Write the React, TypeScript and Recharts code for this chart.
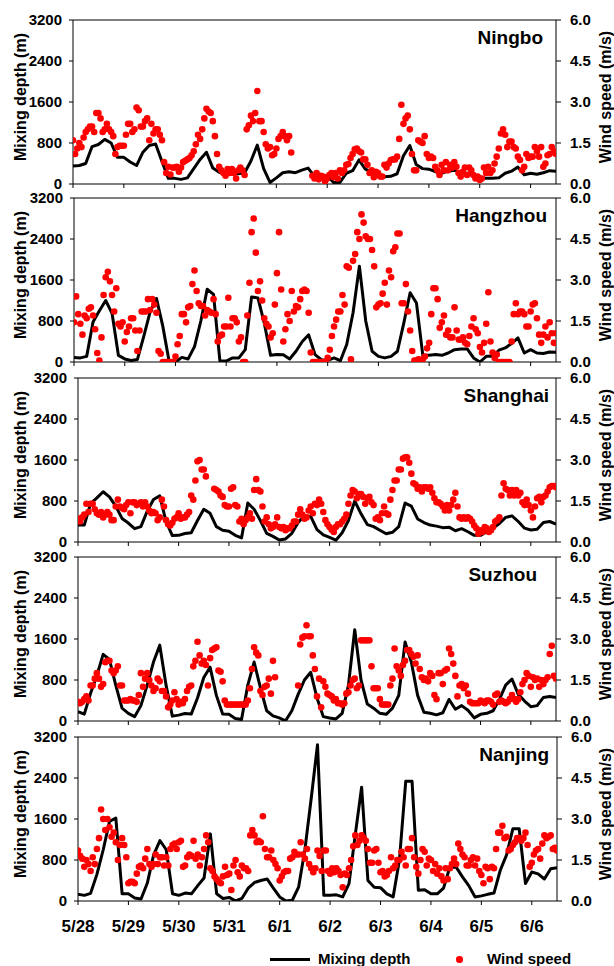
import React from "react";
import {
  ComposedChart,
  Line,
  Scatter,
  XAxis,
  YAxis,
  ReferenceLine,
} from "recharts";

const FONT = '"Liberation Sans", Arial, Helvetica, sans-serif';

// x axis: hours since 5/28 00:00
const xTicks = [0, 24, 48, 72, 96, 120, 144, 168, 192, 216];
const xLabels = ["5/28", "5/29", "5/30", "5/31", "6/1", "6/2", "6/3", "6/4", "6/5", "6/6"];
const depthTicks = [0, 800, 1600, 2400, 3200];
const windTicks = [0, 1.5, 3, 4.5, 6];

// mixing depth (m), every 3 h
const ningboMix = [
  350, 360, 400, 730, 770, 870, 800, 520, 520, 430,
  360, 620, 750, 780, 440, 110, 110, 90, 120, 300,
  480, 620, 310, 230, 200, 190, 200, 220, 450, 760,
  300, 30, 120, 220, 240, 220, 270, 310, 150, 100,
  170, 30, 30, 210, 260, 470, 290, 230, 200, 140,
  150, 200, 550, 750, 380, 300, 290, 240, 210, 250,
  270, 220, 210, 170, 140, 110, 110, 120, 210, 250,
  330, 180, 210, 190, 220, 260, 250,
];
const hangzhouMix = [
  90, 80, 110, 780, 1000, 1200, 950, 130, 60, 30,
  50, 500, 980, 1240, 700, 10, 0, 90, 60, 300,
  800, 1420, 1320, 25, 20, 80, 80, 240, 1270, 1250,
  760, 130, 145, 140, 60, 210, 400, 530, 145, 45,
  30, 80, 25, 340, 960, 1870, 800, 210, 110, 80,
  110, 210, 760, 1350, 1150, 130, 130, 145, 130, 175,
  240, 255, 255, 80, 0, 110, 110, 230, 275, 360,
  470, 175, 240, 175, 165, 195, 190,
];
const shanghaiMix = [
  330, 330, 750, 860, 980, 880, 700, 460, 370, 260,
  300, 600, 830, 900, 400, 125, 130, 165, 180, 420,
  640, 560, 300, 230, 210, 130, 80, 760, 640, 420,
  170, 110, 40, 60, 170, 380, 510, 500, 240, 140,
  90, 35, 180, 420, 800, 550, 340, 300, 230, 160,
  190, 300, 760, 700, 450, 380, 330, 310, 280, 290,
  220, 260, 200, 130, 130, 200, 270, 360, 480, 510,
  400, 270, 235, 250, 380, 400, 350,
];
const suzhouMix = [
  180, 135, 540, 890, 1300, 1200, 700, 250, 150, 85,
  300, 700, 1150, 1480, 700, 95, 115, 145, 135, 450,
  850, 1050, 500, 135, 130, 50, 30, 700, 1150, 650,
  200, 100, 60, 5, 200, 520, 800, 950, 450, 85,
  60, 40, 150, 700, 1780, 800, 330, 250, 150, 130,
  250, 500, 1540, 1150, 500, 170, 150, 120, 160, 420,
  230, 300, 210, 60, 130, 150, 200, 420, 700, 820,
  520, 390, 280, 300, 460, 480, 460,
];
const nanjingMix = [
  130, 110, 150, 520, 1000, 1550, 1620, 140, 140, 60,
  40, 350, 900, 1180, 1000, 140, 110, 155, 140, 300,
  450, 1310, 140, 50, 70, 0, 50, 250, 360, 400,
  430, 250, 80, 0, 15, 270, 1000, 2000, 3050, 110,
  110, 120, 80, 340, 1300, 2220, 400, 270, 260, 140,
  80, 800, 2335, 2335, 210, 220, 140, 140, 250, 660,
  660, 470, 300, 80, 100, 130, 155, 600, 900, 1410,
  1410, 340, 565, 530, 430, 630, 650,
];

// wind speed (m/s), hourly, null = missing
const ningboWind = [
  1.6, 1.1, 1.3, 1.5, 1.35, 1.7, 1.9, 2.0, 2.1, 2.1, 1.9, 2.6, 2.6, 2.4, 1.9, 2.0, 2.2, 2.0, 1.9, 1.75, 1.1, 1.35, 1.4, 1.4,
  1.4, 1.8, 2.2, 2.2, 1.9, 2.0, 2.8, 2.7, 2.1, 2.1, 2.3, 2.4, 1.6, 2.2, 1.85, 2.0, 2.0, 1.8, 1.6, 0.8, 0.4, 0.63, 0.35, 0.6,
  0.6, 0.63, 0.45, 0.6, 0.8, 0.85, 0.9, 0.95, 1.05, 1.2, 1.45, 1.8, 1.65, 2.0, 2.4, 2.75, 2.65, 2.6, 2.3, 1.75, 1.1, 0.63, 0.5, 0.4,
  0.3, 0.55, 0.4, 0.55, 0.4, 0.2, 0.5, 0.6, 0.5, 0.33, 2.0, 2.15, 2.5, 2.3, 2.6, 3.4, 2.3, 2.3, 1.9, 1.45, 1.3, 1.35, 1.05, 1.1,
  1.3, 1.65, 1.75, 1.9, 1.75, 1.6, 1.75, 1.15, null, null, null, null, null, null, null, null, null, 0.3, 0.2, 0.4, 0.17, 0.3, 0.27, 0.1,
  0.2, 0.33, 0.4, 0.25, 0.4, 0.2, 0.5, 0.4, 0.5, 0.7, 0.73, 0.95, 1.1, 1.27, 1.3, 1.2, 1.15, 0.9, 0.9, 0.7, 0.4, 0.5, 0.25, 0.45,
  0.4, 0.27, 0.27, 0.7, 0.6, 0.75, 0.88, 0.9, 0.9, 1.0, 1.65, 2.9, 2.2, 2.4, 2.5, 2.0, 1.1, 0.5, 0.5, 1.6, 1.55, 1.5, 1.75, 1.1,
  0.95, 1.0, 0.95, 0.63, 0.5, 0.33, 0.7, 0.5, 0.8, 0.5, 0.7, 0.6, 0.8, 0.63, 0.4, 0.27, 0.45, 0.6, 0.33, 0.6, 0.5, 0.33, 0.2, 0.27,
  0.15, 0.2, 0.6, 0.4, 0.63, 0.4, 0.5, 0.75, 1.0, 1.3, 1.85, 2.0, 1.8, 1.35, 1.55, 1.55, 1.35, 1.3, 1.0, 0.88, 0.5, 0.63, 1.1, 0.95,
  1.0, 1.0, 1.35, 1.2, 1.0, 1.35, 0.63, 0.75, 1.05, 1.1, 1.35, 1.2, 1.1,
];
const hangzhouWind = [
  1.45, 2.4, 1.75, 1.4, 1.0, 1.7, 1.6, 1.95, 2.0, 1.7, 1.2, 0.33, 0.05, 0.9, 2.45, 3.1, 3.3, 2.95, 2.45, 1.85, 2.7, 1.4, 1.3, 1.45,
  0.75, 1.1, 1.3, 1.6, 1.6, 1.15, 0.4, 1.15, 1.85, 1.85, 1.85, 2.3, 1.9, 2.3, 2.1, 1.8, 0.4, 0.3, 0, 0, 0, 0, 0, 0,
  0.2, 0.65, 0.95, 1.75, 1.75, 1.45, 2.0, 2.05, 2.85, 3.35, 2.6, 2.15, 2.05, 2.05, 1.7, 1.9, 1.85, 1.8, 2.3, 1.75, 0.75, 0.95, 1.0, 1.3,
  1.3, 2.35, 1.3, 1.6, 1.6, 1.45, 0.75, 0.9, 0, 0, 1.7, 2.9, 4.75, 5.25, 4.0, 2.6, 2.95, 2.25, 1.6, 1.4, 1.3, 0.9, 1.05, 2.1,
  3.25, 4.75, 2.65, 0.75, 1.2, 1.75, 1.5, 2.6, 1.85, 2.05, 2.0, 2.3, 2.6, 2.65, 2.6, 1.8, 0.35, 0, 0, 0, 0, 0, 0, 0,
  0.15, 0.45, 0.95, 1.3, 1.55, 1.85, 1.85, 2.45, 2.1, 3.5, 3.45, 0.1, 3.7, 3.95, 4.75, 4.5, 5.4, 5.1, 4.6, 4.5, 4.5, 4.1, 3.5, 2.0,
  2.1, 2.15, 2.5, 2.9, 2.1, 3.35, 3.1, 4.05, 4.2, 4.7, 4.7, 2.15, 2.15, 2.85, 1.85, 1.15, 0.4, 0.05, 0.05, 0.1, 0.05, 0.1, 0.2, 0.5,
  0.7, 1.75, 2.7, 2.7, 2.3, 1.25, 1.45, 1.7, 1.0, 1.15, 0.9, 0.9, 2.0, 1.15, 0.82, 0.82, 0.9, 0.7, 0.65, 0.95, 1.3, 1.6, 1.2, 1.05,
  0.55, 0.35, 0.7, 1.4, 2.55, 0.75, 0.35, 0.15, 0.27, 0, 0, 0, 0, 0, 0, 0.75, 1.75, 2.15, 1.75, 1.85, 1.85, 1.75, 1.3, 1.3,
  1.85, 2.1, 2.15, 1.6, 1.0, 0.7, 1.0, 1.3, 0.9, 1.45, 1.05, 0.7, 1.05,
];
const shanghaiWind = [
  0.85, 0.75, 0.9, 1.0, 1.4, 1.1, 1.4, 1.4, 1.2, 1.05, 1.0, 1.1, 0.9, 1.0, 1.1, 1.0, 0.8, 0.8, 1.3, 1.55, 1.3, 1.25, 1.2, 1.35,
  1.45, 1.05, 1.45, 1.45, 1.35, 1.4, 1.45, 1.3, 1.45, 1.3, 1.15, 1.05, 1.1, 1.05, 0.8, 0.9, 1.55, 1.3, 0.8, 0.65, 0.6, 0.7, 0.85, 0.9,
  1.05, 0.85, 0.9, 0.9, 1.0, 1.1, 1.7, 1.55, 2.25, 2.95, 3.0, 2.65, 2.65, 2.4, null, null, null, 1.95, 1.9, 1.85, 1.7, 1.65, 1.35, 1.3,
  1.3, 1.95, 2.0, 1.35, 1.3, 0.75, 0.85, 0.65, 0.8, 0.9, 1.05, 0.85, 1.9, 2.3, 1.9, 1.85, 1.3, 0.75, 0.9, 0.65, 0.5, 0.55, 0.65, 0.9,
  0.55, 0.5, 0.55, 0.43, 0.5, 0.5, 0.6, 0.75, 0.75, 1.0, 1.2, 1.0, 0.85, 0.9, 1.15, 1.3, 1.05, 1.4, 1.35, 1.55, 1.4, 1.1, 0.8, 0.65,
  0.55, 0.45, 0.37, 0.55, 0.65, 0.65, 0.75, 0.85, 1.0, 1.4, 1.7, 1.9, 1.85, 1.6, 1.75, 1.75, 1.65, 1.4, 1.6, 1.65, 1.45, 1.35, 0.85, 0.9,
  0.8, 1.05, 1.3, 1.05, 1.0, 1.55, 1.9, 2.25, 2.25, 2.65, 2.65, 3.05, 3.1, 3.1, 2.9, 2.5, 2.15, 2.1, 1.95, 2.0, 1.85, 2.0, 2.0, 1.95,
  2.0, 1.8, 1.6, 1.45, 1.45, 1.4, 1.3, 1.15, 1.35, 1.15, 1.35, 1.55, 1.8, 1.3, 0.9, 0.85, 0.9, 0.85, 0.9, 0.85, 0.75, 0.6, 0.5, 0.3,
  0.43, 0.37, 0.55, 0.5, 0.37, 0.43, 0.55, 0.75, 0.8, 0.9, 1.7, 2.15, 1.95, 1.9, 1.7, 1.9, 1.7, 1.9, 1.7, 1.8, 1.45, 1.35, 1.55, 1.35,
  1.15, 0.9, 1.3, 1.6, 1.65, 1.45, 1.65, 1.7, 1.85, 2.0, 2.05, 2.05, 2.0,
];
const suzhouWind = [
  0.7, 0.65, 0.7, 0.8, 0.9, 0.75, 1.3, 1.3, 1.55, 1.75, 1.55, 1.25, 1.35, 2.15, 2.2, 2.2, 1.85, 1.75, 1.85, 2.0, 1.3, 1.3, 0.75, 0.75,
  0.75, 0.8, 0.75, 0.75, 0.7, 0.95, 1.75, 1.25, 1.55, 1.75, 1.5, 1.3, 1.1, 1.2, 1.55, 1.45, 1.1, 1.1, 0.9, 0.5, 0.6, 0.75, 1.05, 0.8,
  0.6, 0.7, 0.65, 0.8, 1.1, 1.25, 1.3, 2.0, 2.2, 2.9, 2.4, 2.1, 2.2, 2.05, 1.3, 2.3, 2.6, 2.65, 2.7, 1.85, 1.8, 1.45, 0.75, 0.6,
  0.6, 0.6, 0.6, 0.6, 0.6, 0.6, 0.6, 0.6, 0.6, 0.75, 1.2, 1.9, 2.7, 2.5, 2.4, 1.1, 0.95, 1.25, 1.3, 1.55, 1.0, 2.2, 1.6, null,
  null, null, null, null, null, null, null, null, null, 1.3, 2.8, 3.05, 3.1, 3.5, 3.1, 3.1, 2.4, 1.9, 0.9, 1.55, 0.5, 1.45, 1.25, 1.0,
  0.95, 0.9, 0.75, 0.8, 0.65, 0.65, 0.6, 0.65, 1.0, 1.05, 1.3, 1.5, 1.55, 1.2, 1.3, 2.95, 2.95, 2.95, 2.95, 2.95, 2.0, 1.2, 1.2, 1.2,
  0.8, 0.6, 0.6, 0.6, 0.6, 1.3, 1.55, 2.65, 2.0, 1.85, 1.65, 2.05, 2.2, 2.6, 2.6, 2.45, 2.35, 2.1, 2.4, 1.9, 1.6, 1.5, 1.55, 1.45,
  1.75, 1.65, 0.95, 0.8, 1.75, 1.75, 1.35, 1.85, 1.9, 2.65, 2.45, 2.1, 1.65, 0.9, 1.3, 1.35, 1.2, 1.3, 1.0, 0.7, 0.65, 0.65, 0.65, 0.65,
  0.75, 0.7, 0.65, 0.75, 0.75, 0.7, 0.6, 0.95, 1.0, 0.7, 0.75, 0.7, 0.65, 0.7, 0.8, 0.95, 0.8, 0.7, 0.8, 1.05, 1.35, 1.5, 1.75, 1.65,
  1.25, 1.6, 1.5, 1.55, 1.25, 1.5, 1.35, 1.5, 1.6, 2.45, 2.75, 1.65, 1.55,
];
const nanjingWind = [
  1.85, 1.65, 1.55, 1.25, 1.5, 1.35, 1.1, 1.6, 1.35, 1.9, 2.3, 3.35, 3.0, 2.6, 3.0, 2.7, 2.35, 2.5, 2.15, 1.5, 2.05, 2.3, 2.05, 1.6,
  0.65, 0.7, 0.7, 0.65, 1.0, 1.25, 1.3, 1.2, 1.55, 1.9, 1.35, 1.25, 1.35, 1.7, 1.35, 1.6, 1.6, 1.3, 1.6, 1.3, 1.9, 2.05, 2.1, 1.9,
  2.15, 2.2, 1.25, 1.3, 1.6, 1.7, 1.65, 2.2, 1.55, 1.7, 1.3, 1.6, 1.9, 2.4, 2.15, 1.2, 1.1, 0.9, 0.8, 0.7, 0.65, 0.9, 1.25, 0.95,
  1.0, 0.4, 1.3, 1.5, 1.05, 0.9, 1.3, 1.2, 1.2, 1.1, 2.4, 2.6, 2.4, 2.15, 2.2, 2.15, 3.1, 1.9, 1.6, 1.6, 1.85, 1.5, 1.35, 1.2,
  0.75, 0.9, 1.05, 1.1, 1.1, 1.55, 1.6, 1.8, 1.7, 1.7, 2.15, 1.7, 1.55, 1.9, 1.35, 1.2, 1.05, 1.2, 1.85, 1.65, 1.1, 1.85, 1.85, 1.1,
  1.0, 1.2, 1.05, 1.2, 1.1, 0.95, 0.5, 1.0, 0.95, 1.2, 1.5, 2.0, 2.4, 2.05, 2.2, 2.4, 2.3, 2.2, 1.9, 1.4, 1.4, 1.85, 1.9, 1.4,
  1.05, 1.1, 0.9, 0.95, 1.1, 1.6, 1.2, 1.3, 1.5, 1.5, 1.8, 1.6, 1.3, 1.9, 1.9, 2.3, 1.6, 1.25, 1.0, 1.5, 1.9, 1.8, 1.3, 1.55,
  1.5, 1.1, 1.35, 1.0, 1.2, 0.9, 0.75, 1.2, 0.8, 1.2, 1.35, 1.55, 1.35, 2.1, 1.9, 1.7, 1.6, 1.3, 1.3, 1.5, 1.6, 1.3, 1.55, 1.1,
  0.95, 0.65, 1.25, 1.2, 0.8, 1.25, 1.2, 1.9, 2.5, 2.5, 2.75, 2.3, 2.35, 1.85, 1.9, 2.05, 2.15, 2.3, 2.3, 2.2, 2.3, 2.5, 2.05, 1.25,
  1.4, 1.7, 1.85, 1.9, 1.55, 2.1, 2.4, 2.3, 2.35, 2.4, 1.9, 1.95, 1.85,
];

const panels = [
  { name: "Ningbo", mix: ningboMix, wind: ningboWind, left: 73, right: 556, top: 20, height: 164, titleRight: 543 },
  { name: "Hangzhou", mix: hangzhouMix, wind: hangzhouWind, left: 74, right: 556, top: 198, height: 164, titleRight: 547 },
  { name: "Shanghai", mix: shanghaiMix, wind: shanghaiWind, left: 78, right: 556, top: 378, height: 164, titleRight: 549 },
  { name: "Suzhou", mix: suzhouMix, wind: suzhouWind, left: 78, right: 556, top: 557, height: 164, titleRight: 537 },
  { name: "Nanjing", mix: nanjingMix, wind: nanjingWind, left: 78, right: 557, top: 737, height: 164, titleRight: 549 },
];

const tickFont = { fontSize: 15, fontWeight: 700, fill: "#000", fontFamily: FONT };
const axisStroke = { stroke: "#000", strokeWidth: 1 };

const RedDot = (props: any) => {
  if (props.cx == null || props.cy == null) return <g />;
  return <circle cx={props.cx} cy={props.cy} r={3.3} fill="#ff0000" />;
};

function Panel({ p, last }: { p: any; last: boolean }) {
  const mt = 10;
  const xh = last ? 45 : 10;
  const mixData = p.mix.map((v: number, i: number) => ({ h: i * 3, v }));
  const windData = p.wind
    .map((v: number | null, h: number) => ({ h, v }))
    .filter((d: any) => d.v !== null);
  const midY = p.top + p.height / 2 - 5;

  return (
    <>
      <div style={{ position: "absolute", left: 0, top: p.top - mt }}>
        <ComposedChart
          width={614}
          height={mt + p.height + xh}
          margin={{ top: mt, right: 0, bottom: 0, left: 0 }}
        >
          <XAxis
            type="number"
            dataKey="h"
            domain={[0, 228]}
            ticks={xTicks}
            interval={0}
            allowDataOverflow
            height={xh}
            tickSize={4}
            tickMargin={15}
            axisLine={axisStroke}
            tickLine={axisStroke}
            tick={last ? { ...tickFont, fontSize: 17 } : () => <g />}
            tickFormatter={(h: number) => xLabels[Math.round(h / 24)]}
          />
          <YAxis
            yAxisId="l"
            orientation="left"
            width={p.left}
            domain={[0, 3200]}
            ticks={depthTicks}
            interval={0}
            allowDataOverflow
            tickSize={4}
            tickMargin={7}
            axisLine={axisStroke}
            tickLine={axisStroke}
            tick={tickFont}
          />
          <YAxis
            yAxisId="r"
            orientation="right"
            width={614 - p.right}
            domain={[0, 6]}
            ticks={windTicks}
            interval={0}
            allowDataOverflow
            tickSize={5}
            tickMargin={9}
            axisLine={axisStroke}
            tickLine={axisStroke}
            tick={tickFont}
            tickFormatter={(v: number) => v.toFixed(1)}
          />
          <ReferenceLine yAxisId="l" y={3200} stroke="#000" strokeWidth={1} />
          <Line
            yAxisId="l"
            data={mixData}
            dataKey="v"
            type="linear"
            stroke="#000"
            strokeWidth={3}
            strokeLinejoin="round"
            dot={false}
            activeDot={false}
            isAnimationActive={false}
          />
          <Scatter
            yAxisId="r"
            data={windData}
            dataKey="v"
            shape={RedDot}
            isAnimationActive={false}
          />
        </ComposedChart>
      </div>
      <div
        style={{
          position: "absolute",
          left: 21,
          top: midY,
          transform: "translate(-50%, -50%) rotate(-90deg)",
          whiteSpace: "nowrap",
          fontSize: 16,
          fontWeight: 700,
          lineHeight: 1,
        }}
      >
        Mixing depth (m)
      </div>
      <div
        style={{
          position: "absolute",
          left: 606,
          top: midY,
          transform: "translate(-50%, -50%) rotate(-90deg)",
          whiteSpace: "nowrap",
          fontSize: 16,
          fontWeight: 700,
          lineHeight: 1,
        }}
      >
        Wind speed (m/s)
      </div>
      <div
        style={{
          position: "absolute",
          right: 614 - p.titleRight,
          top: p.top + 8,
          fontSize: 19,
          fontWeight: 700,
          lineHeight: 1,
          whiteSpace: "nowrap",
        }}
      >
        {p.name}
      </div>
    </>
  );
}

export default function App() {
  return (
    <div
      style={{
        position: "absolute",
        left: 0,
        top: 0,
        width: 614,
        height: 966,
        overflow: "hidden",
        background: "#fff",
        fontFamily: FONT,
        color: "#000",
      }}
    >
      {panels.map((p, i) => (
        <Panel key={p.name} p={p} last={i === panels.length - 1} />
      ))}
      {/* legend */}
      <div style={{ position: "absolute", left: 270, top: 957.5, width: 40, height: 3, background: "#000" }} />
      <div style={{ position: "absolute", left: 318, top: 951, fontSize: 15, fontWeight: 700, lineHeight: 1, whiteSpace: "nowrap" }}>
        Mixing depth
      </div>
      <div style={{ position: "absolute", left: 456, top: 956, width: 6.6, height: 6.6, borderRadius: "50%", background: "#ff0000" }} />
      <div style={{ position: "absolute", left: 487, top: 951, fontSize: 15, fontWeight: 700, lineHeight: 1, whiteSpace: "nowrap" }}>
        Wind speed
      </div>
    </div>
  );
}
